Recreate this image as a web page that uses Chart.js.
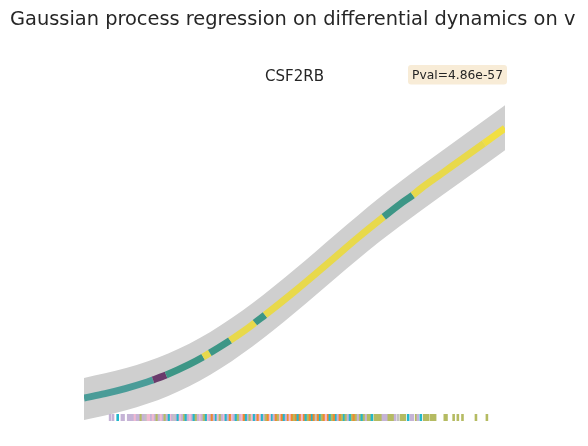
<!DOCTYPE html>
<html>
<head>
<meta charset="utf-8">
<script src="https://cdn.jsdelivr.net/npm/chart.js@4"></script>
<style>
  html, body { margin: 0; padding: 0; background: #ffffff; }
  #wrap { width: 588px; height: 446px; }
</style>
</head>
<body>
<div id="wrap"><canvas id="myChart" width="588" height="446"></canvas></div>
<script>
const mainTitle = 'Gaussian process regression on differential dynamics on v';
const geneName = 'CSF2RB';
const pvalText = 'Pval=4.86e-57';

// pseudotime grid and fitted mean
const time = [0, 0.05, 0.10, 0.15, 0.164, 0.195, 0.25, 0.283, 0.299, 0.347, 0.40, 0.406, 0.43,
              0.50, 0.55, 0.60, 0.65, 0.712, 0.752, 0.781, 0.80, 0.85, 0.90, 0.95, 1.0];
const mean = [0.320, 0.364, 0.417, 0.480, 0.501, 0.550, 0.656, 0.730, 0.770, 0.896, 1.052, 1.074, 1.150,
              1.385, 1.561, 1.742, 1.921, 2.132, 2.263, 2.349, 2.414, 2.565, 2.716, 2.867, 3.018];
// colour state of each piece of the fitted line
const lineState = ['a', 'a', 'a', 'a', 'p', 'b', 'b', 'y', 'b', 'y', 'y', 'b',
                   'y', 'y', 'y', 'y', 'y', 'b', 'b', 'y', 'y', 'y', 'y', 'z'];

// confidence band
const bandTime = [0, 0.1, 0.2, 0.3, 0.4, 0.5, 0.6, 0.7, 0.8, 0.9, 1.0];
const upper = [0.520, 0.620, 0.766, 0.981, 1.267, 1.604, 1.965, 2.318, 2.637, 2.942, 3.248];
const lower = [0.100, 0.197, 0.340, 0.552, 0.835, 1.169, 1.527, 1.877, 2.193, 2.495, 2.798];

// cells along pseudotime (rug) and their cluster
const rugTime = [0.062, 0.069, 0.080, 0.090, 0.094, 0.105, 0.109, 0.114, 0.119, 0.121, 0.126, 0.131,
  0.135, 0.140, 0.144, 0.147, 0.152, 0.157, 0.160, 0.164, 0.169, 0.173, 0.178, 0.183, 0.188, 0.192,
  0.197, 0.202, 0.207, 0.210, 0.214, 0.219, 0.223, 0.228, 0.233, 0.238, 0.242, 0.247, 0.252, 0.257,
  0.261, 0.266, 0.271, 0.276, 0.280, 0.285, 0.290, 0.295, 0.299, 0.304, 0.309, 0.314, 0.318, 0.323,
  0.328, 0.333, 0.337, 0.342, 0.347, 0.352, 0.356, 0.361, 0.366, 0.371, 0.375, 0.380, 0.385, 0.390,
  0.394, 0.399, 0.404, 0.409, 0.413, 0.418, 0.423, 0.428, 0.432, 0.437, 0.442, 0.447, 0.451, 0.456,
  0.461, 0.466, 0.470, 0.475, 0.480, 0.485, 0.489, 0.494, 0.499, 0.504, 0.508, 0.513, 0.518, 0.523,
  0.527, 0.532, 0.537, 0.542, 0.546, 0.551, 0.556, 0.561, 0.565, 0.570, 0.575, 0.580, 0.584, 0.589,
  0.594, 0.599, 0.603, 0.608, 0.613, 0.618, 0.622, 0.627, 0.632, 0.637, 0.641, 0.646, 0.651, 0.656,
  0.660, 0.665, 0.670, 0.675, 0.679, 0.684, 0.691, 0.696, 0.701, 0.705, 0.710, 0.715, 0.720, 0.724,
  0.729, 0.734, 0.739, 0.746, 0.753, 0.758, 0.762, 0.770, 0.777, 0.781, 0.789, 0.793, 0.800, 0.808,
  0.812, 0.817, 0.824, 0.829, 0.834, 0.857, 0.861, 0.878, 0.888, 0.899, 0.931, 0.957];
const rugCluster = ['L', 'L', 'C', 'L', 'L', 'L', 'L', 'L', 'L', 'P', 'L', 'L',
  'O', 'L', 'L', 'G', 'P', 'P', 'L', 'P', 'L', 'O', 'L', 'P', 'L', 'O',
  'L', 'C', 'P', 'L', 'G', 'L', 'C', 'P', 'L', 'O', 'C', 'L', 'P', 'L',
  'C', 'O', 'L', 'P', 'L', 'O', 'C', 'P', 'L', 'R', 'L', 'C', 'P', 'O',
  'L', 'P', 'C', 'L', 'R', 'P', 'L', 'C', 'O', 'L', 'P', 'R', 'C', 'L',
  'O', 'P', 'C', 'L', 'R', 'P', 'C', 'L', 'O', 'R', 'P', 'C', 'L', 'R',
  'O', 'P', 'R', 'C', 'L', 'R', 'P', 'R', 'O', 'R', 'C', 'R', 'P', 'R',
  'C', 'O', 'R', 'C', 'R', 'G', 'R', 'C', 'O', 'R', 'P', 'R', 'C', 'O',
  'R', 'C', 'L', 'R', 'O', 'C', 'O', 'L', 'C', 'O', 'R', 'O', 'L', 'O',
  'C', 'O', 'L', 'O', 'O', 'C', 'O', 'O', 'O', 'O', 'L', 'L', 'L', 'O',
  'O', 'O', 'L', 'G', 'O', 'O', 'O', 'C', 'L', 'L', 'O', 'L', 'C', 'O',
  'O', 'O', 'O', 'O', 'O', 'O', 'O', 'O', 'O', 'O', 'O', 'O'];
const rugLevel = 0.125;

const stateColors = { a: '#4a9c98', b: '#3d9686', p: '#6a3b6c', y: '#e8d94b', z: '#f1df42' };
const clusterColors = { L: '#c5b3d6', P: '#f2b9d1', C: '#22b7cb', R: '#f08a2e', O: '#b5bb62', G: '#c2c2c2' };

const textPlugin = {
    id: 'texts',
    afterDraw(chart) {
        const c = chart.ctx;
        const area = chart.chartArea;
        c.save();
        c.fillStyle = '#262626';
        c.textBaseline = 'alphabetic';
        c.font = '19.4px "DejaVu Sans"';
        c.textAlign = 'left';
        c.fillText(mainTitle, 10, 25);
        c.font = '15px "DejaVu Sans"';
        c.textAlign = 'center';
        c.fillText(geneName, (area.left + area.right) / 2, 81);
        // p-value box
        c.font = '12.3px "DejaVu Sans"';
        c.textAlign = 'left';
        const w = c.measureText(pvalText).width;
        const bx = area.right + 2 - w - 8;
        c.fillStyle = '#f8ecd7';
        c.beginPath();
        c.roundRect(bx, 65, w + 8, 19.5, 3);
        c.fill();
        c.fillStyle = '#262626';
        c.fillText(pvalText, bx + 4, 79);
        c.restore();
    }
};

const ctx = document.getElementById('myChart').getContext('2d');
const myChart = new Chart(ctx, {
    type: 'line',
    data: {
        datasets: [
            {
                label: 'fit',
                data: time.map((t, i) => ({ x: t, y: mean[i] })),
                borderWidth: 7,
                borderCapStyle: 'butt',
                borderColor: stateColors.a,
                segment: {
                    borderColor: c => stateColors[lineState[c.p0DataIndex]]
                },
                pointRadius: 0,
                cubicInterpolationMode: 'monotone',
                fill: false,
                order: 1
            },
            {
                label: 'upper',
                data: bandTime.map((t, i) => ({ x: t, y: upper[i] })),
                borderWidth: 0,
                pointRadius: 0,
                cubicInterpolationMode: 'monotone',
                backgroundColor: '#cfcfcf',
                fill: '+1',
                order: 3
            },
            {
                label: 'lower',
                data: bandTime.map((t, i) => ({ x: t, y: lower[i] })),
                borderWidth: 0,
                pointRadius: 0,
                cubicInterpolationMode: 'monotone',
                fill: false,
                order: 3
            },
            {
                label: 'cells',
                type: 'scatter',
                data: rugTime.map(t => ({ x: t, y: rugLevel })),
                pointStyle: 'line',
                rotation: 90,
                pointRadius: 3.5,
                pointBorderWidth: 2.6,
                pointBorderColor: rugCluster.map(k => clusterColors[k]),
                pointBackgroundColor: rugCluster.map(k => clusterColors[k]),
                order: 0
            }
        ]
    },
    options: {
        responsive: false,
        animation: false,
        layout: {
            padding: { left: 84, right: 83, top: 100, bottom: 16 }
        },
        scales: {
            x: { type: 'linear', min: 0, max: 1, display: false },
            y: { min: 0, max: 3.3, display: false }
        },
        plugins: {
            legend: { display: false },
            tooltip: { enabled: false },
            title: { display: false }
        }
    },
    plugins: [textPlugin]
});
</script>
</body>
</html>
